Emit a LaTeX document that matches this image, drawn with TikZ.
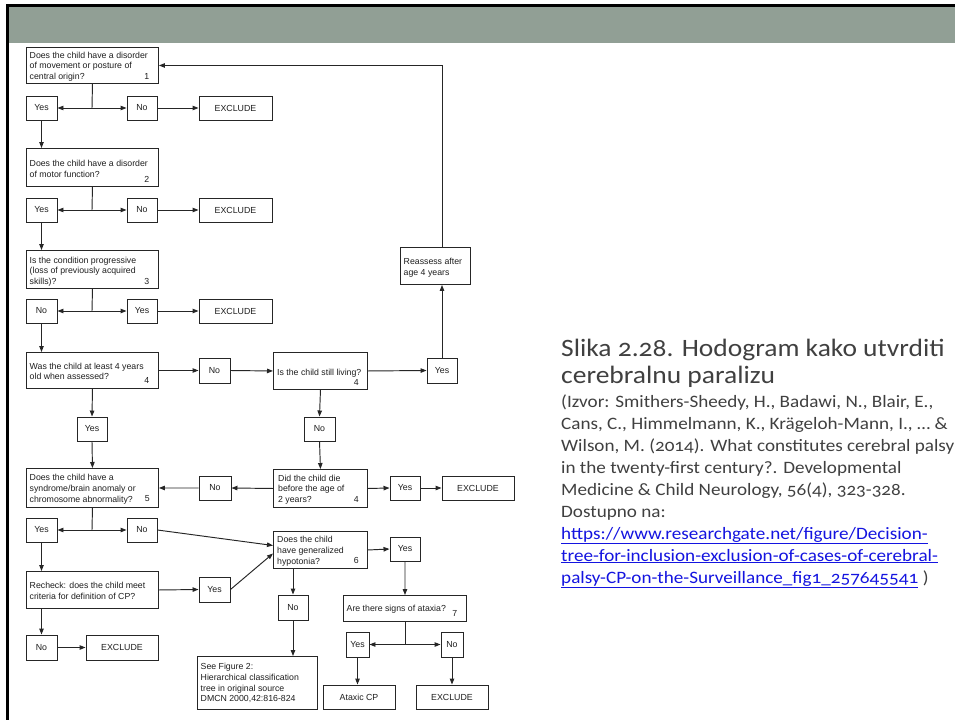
\documentclass[tikz,border=0pt]{standalone}
\usepackage{fontspec}
\setmainfont{Liberation Sans}
\newfontfamily\capfont[Numbers=OldStyle,FakeStretch=1.1]{Carlito}
\usetikzlibrary{arrows.meta,calc}
\definecolor{band}{HTML}{919F95}
\definecolor{ln}{HTML}{262626}
\definecolor{captxt}{HTML}{404040}
\definecolor{lnk}{HTML}{1414E0}
\newcommand\qbox[5]{\node[qb, minimum width={#4-#2}, minimum height={#5-#3}] (#1) at (#2,#3) {};}
\newcommand\abox[6]{\node[ab, minimum width={#4-#2}, minimum height={#5-#3}] (#1) at ({(#2+#4)/2},{(#3+#5)/2}) {#6};}
\begin{document}
\begin{tikzpicture}[x=1pt,y=-1pt,
  qb/.style={draw=ln, line width=0.95pt, inner sep=0pt, anchor=north west},
  ab/.style={draw=ln, line width=0.95pt, inner sep=0pt, font=\fontsize{8.8}{10.7}\selectfont, text=black!88},
  txt/.style={anchor=north west, inner sep=0pt, align=left, font=\fontsize{8.75}{10.7}\selectfont, text=black!88},
  num/.style={anchor=base east, inner sep=0pt, font=\fontsize{8.75}{10.7}\selectfont, text=black!88},
  arr/.style={draw=ln, line width=0.95pt, -{Triangle[length=6pt,width=4.5pt]}},
  con/.style={draw=ln, line width=0.95pt},
  cap1/.style={anchor=base west, inner sep=0pt, font=\capfont\fontsize{25}{27}\selectfont, text=captxt},
  cap2/.style={anchor=base west, inner sep=0pt, font=\capfont\fontsize{17.4}{22}\selectfont, text=captxt},
  lk/.style={anchor=base west, inner sep=0pt, font=\capfont\fontsize{17.4}{22}\selectfont, text=lnk}]
\useasboundingbox (0,0) rectangle (955,720);
\fill[white] (0,0) rectangle (955,720);
\fill[black] (6,4) rectangle (955,7);
\fill[black] (6,4) rectangle (9,720);
\fill[band] (9,7) rectangle (955,43);

% question boxes
\qbox{b1}{26}{47}{158}{83}
\qbox{b2}{26}{148}{158}{186}
\qbox{b3}{26}{250}{158}{288}
\qbox{b4}{26}{352}{158}{388}
\qbox{liv}{273}{352}{367}{389}
\qbox{rea}{400}{247}{470}{284}
\qbox{die}{273}{469}{367}{507}
\qbox{b5}{26}{468}{158}{507}
\qbox{rc}{26}{571}{158}{608}
\qbox{hyp}{273}{531}{367}{568}
\qbox{ax}{343}{595}{466}{621}
\qbox{fig}{197}{656}{317}{709}

\node[txt] (t1) at (29.5,51.6) {Does the child have a disorder\\of movement or posture of\\central origin?};
\node[num] (u1) at (149.5,79.4) {1};
\node[txt] (t2) at (29.5,160.1) {Does the child have a disorder\\of motor function?};
\node[num] (u2) at (149.5,182.5) {2};
\node[txt] (t3) at (29.5,256.6) {Is the condition progressive\\(loss of previously acquired\\skills)?};
\node[num] (u3) at (149.5,284.4) {3};
\node[txt] (t4) at (29.5,362.6) {Was the child at least 4 years\\old when assessed?};
\node[num] (u4) at (149.5,383.5) {4};
\node[txt] (tl) at (277,368.6) {Is the child still living?};
\node[num] (ul) at (359,385.5) {4};
\node[txt] (tr) at (403.5,258.1) {Reassess after\\age 4 years};
\node[txt] (td) at (278,474.6) {Did the child die\\before the age of\\2 years?};
\node[num] (ud) at (359,502.4) {4};
\node[txt] (t5) at (29.5,474.1) {Does the child have a\\syndrome/brain anomaly or\\chromosome abnormality?};
\node[num] (u5) at (150,501.9) {5};
\node[txt] (trc) at (29.5,582.1) {Recheck: does the child meet\\criteria for definition of CP?};
\node[txt] (th) at (277,536.1) {Does the child\\have generalized\\hypotonia?};
\node[num] (uh) at (359,563.9) {6};
\node[txt] (ta) at (346.5,605.1) {Are there signs of ataxia?};
\node[num] (ua) at (457.5,616.5) {7};
\node[txt] (tf) at (200.5,663.1) {See Figure 2:\\Hierarchical classification\\tree in original source\\DMCN 2000,42:816-824};

% answer boxes
\abox{y1}{26}{96}{57}{120}{Yes}
\abox{n1}{127}{96}{157}{120}{No}
\abox{e1}{199}{96}{272}{120}{EXCLUDE}
\abox{y2}{26}{198}{57}{222}{Yes}
\abox{n2}{127}{198}{157}{222}{No}
\abox{e2}{199}{198}{272}{222}{EXCLUDE}
\abox{n3}{26}{299}{57}{323}{No}
\abox{y3}{127}{299}{157}{323}{Yes}
\abox{e3}{199}{299}{272}{323}{EXCLUDE}
\abox{n4}{199}{358}{230}{383}{No}
\abox{yl}{427}{358}{457}{383}{Yes}
\abox{nl}{304}{417}{335}{441}{No}
\abox{y4}{77}{417}{107}{441}{Yes}
\abox{nd}{199}{476}{231}{500}{No}
\abox{yd}{390}{476}{420}{500}{Yes}
\abox{ed}{442}{476}{514}{500}{EXCLUDE}
\abox{y5}{26}{518}{57}{542}{Yes}
\abox{n5}{127}{518}{157}{542}{No}
\abox{yrc}{199}{577}{230}{602}{Yes}
\abox{nrc}{26}{635}{57}{660}{No}
\abox{erc}{86}{635}{158}{660}{EXCLUDE}
\abox{y6}{390}{537}{420}{561}{Yes}
\abox{n6}{278}{595}{308}{620}{No}
\abox{y7}{346}{632}{369}{657}{Yes}
\abox{n7}{441}{632}{463}{657}{No}
\abox{acp}{323}{685}{395}{709}{Ataxic CP}
\abox{eax}{416}{685}{488}{709}{EXCLUDE}

% connectors
\coordinate (j1) at (92,108);
\coordinate (j2) at (92,210);
\coordinate (j3) at (92,311);
\coordinate (j5) at (92,530);
\coordinate (j7) at (405,644.5);
\draw[con] (b1.south) -- (j1);
\draw[arr] (j1) -- (y1.east);
\draw[arr] (j1) -- (n1.west);
\draw[arr] (n1.east) -- (e1.west);
\draw[arr] (y1.south) -- (y1.south |- b2.north);
\draw[con] (b2.south) -- (j2);
\draw[arr] (j2) -- (y2.east);
\draw[arr] (j2) -- (n2.west);
\draw[arr] (n2.east) -- (e2.west);
\draw[arr] (y2.south) -- (y2.south |- b3.north);
\draw[con] (b3.south) -- (j3);
\draw[arr] (j3) -- (n3.east);
\draw[arr] (j3) -- (y3.west);
\draw[arr] (y3.east) -- (e3.west);
\draw[arr] (n3.south) -- (n3.south |- b4.north);
\draw[arr] (b4.east) -- (n4.west);
\draw[arr] (n4.east) -- (liv.west);
\draw[arr] (liv.east) -- (yl.west);
\draw[arr] (yl.north) -- (yl.north |- rea.south);
\draw[arr] (rea.north -| yl.north) |- (b1.east);
\draw[arr] (b4.south) -- (y4.north);
\draw[arr] (y4.south) -- (b5.north);
\draw[arr] (liv.south) -- (nl.north);
\draw[arr] (nl.south) -- (die.north);
\draw[arr] (die.west) -- (nd.east);
\draw[arr] (nd.west) -- (b5.east);
\draw[arr] (die.east) -- (yd.west);
\draw[arr] (yd.east) -- (ed.west);
\draw[con] (b5.south) -- (j5);
\draw[arr] (j5) -- (y5.east);
\draw[arr] (j5) -- (n5.west);
\draw[arr] (n5.east) -- ($(hyp.west)+(0,-4.5)$);
\draw[arr] (y5.south) -- (y5.south |- rc.north);
\draw[arr] (rc.east) -- (yrc.west);
\draw[arr] (yrc.east) -- ($(hyp.west)+(0,3.5)$);
\draw[arr] (rc.south -| nrc.north) -- (nrc.north);
\draw[arr] (nrc.east) -- (erc.west);
\draw[arr] (hyp.east) -- (y6.west);
\draw[arr] (n6.north |- hyp.south) -- (n6.north);
\draw[arr] (n6.south) -- (n6.south |- fig.north);
\draw[arr] (y6.south) -- (ax.north);
\draw[con] (ax.south -| j7) -- (j7);
\draw[arr] (j7) -- (y7.east);
\draw[arr] (j7) -- (n7.west);
\draw[arr] (y7.south) -- (y7.south |- acp.north);
\draw[arr] (n7.south) -- (eax.north);

% caption
\node[cap1] (c1) at (561,356) {Slika 2.28. Hodogram kako utvrditi};
\node[cap1] (c2) at (561,383) {cerebralnu paralizu};
\node[cap2] (s1) at (561,407) {(Izvor: Smithers-Sheedy, H., Badawi, N., Blair, E.,};
\node[cap2] (s2) at (561,429) {Cans, C., Himmelmann, K., Krägeloh-Mann, I., … \&};
\node[cap2] (s3) at (561,451) {Wilson, M. (2014). What constitutes cerebral palsy};
\node[cap2] (s4) at (561,473) {in the twenty-first century?. Developmental};
\node[cap2] (s5) at (561,495) {Medicine \& Child Neurology, 56(4), 323-328.};
\node[cap2] (s6) at (561,517) {Dostupno na:};
\node[lk] (s7) at (561,539) {\underline{https://www.researchgate.net/figure/Decision-}};
\node[lk] (s8) at (561,561) {\underline{tree-for-inclusion-exclusion-of-cases-of-cerebral-}};
\node[lk] (s9) at (561,583) {\underline{palsy-CP-on-the-Surveillance\_fig1\_257645541}};
\node[cap2, anchor=base west] (s10) at (s9.base east) {\ )};
\end{tikzpicture}
\end{document}
